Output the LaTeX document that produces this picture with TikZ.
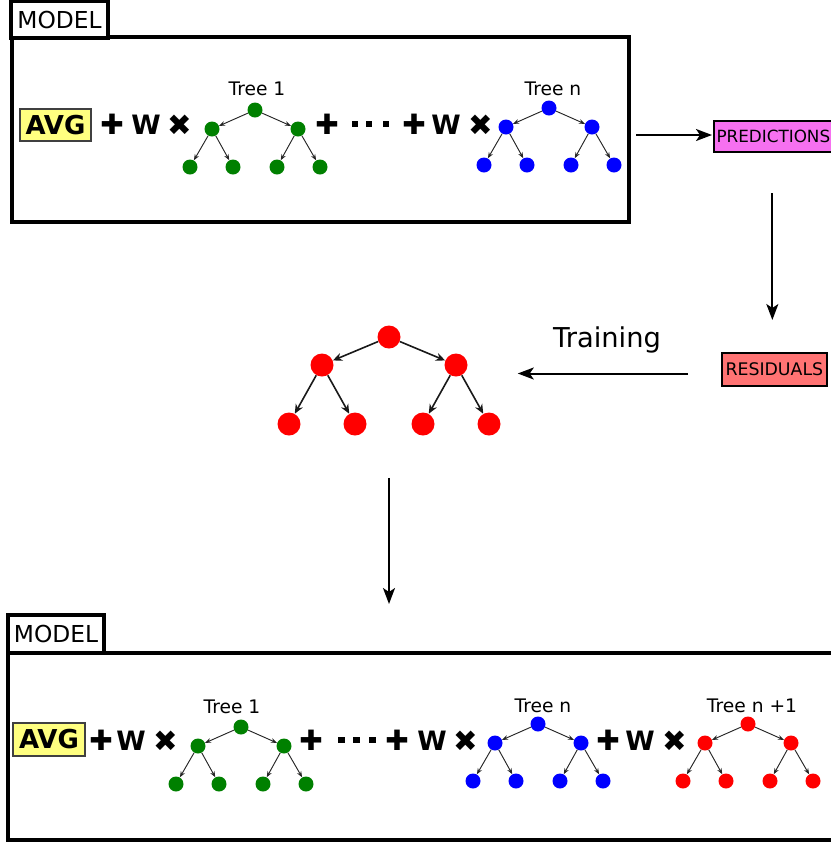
\documentclass[tikz,border=0pt]{standalone}
\usepackage{fontspec}
\setmainfont{DejaVu Sans}
\newfontfamily\dingfont{DejaVu Sans}
\usetikzlibrary{arrows.meta,calc}
\def\u{0.75pt}
\definecolor{avgyellow}{RGB}{255,255,128}
\definecolor{predpink}{RGB}{246,112,240}
\definecolor{respink}{RGB}{255,115,115}
\definecolor{tgreen}{RGB}{0,128,0}
\definecolor{tblue}{RGB}{0,0,255}
\definecolor{tred}{RGB}{255,0,0}
\tikzset{
 tnode/.style={circle, fill=#1, draw=none, inner sep=0pt, minimum size=15*\u},
 bnode/.style={circle, fill=tred, draw=none, inner sep=0pt, minimum size=23*\u},
 tarrow/.style={draw=black!85, line width=0.7pt, -{Stealth[length=4.5pt,width=3.5pt]}},
 barrow/.style={draw=black!90, line width=1.2pt, -{Stealth[length=7pt,width=6pt]}},
 flow/.style={line width=1.5pt, -{Stealth[length=12pt,width=9pt,inset=3pt]}},
 panel/.style={draw, line width=3pt, rectangle, inner sep=0pt},
 tab/.style={draw, line width=3pt, fill=white, inner sep=0pt, font=\fontsize{17.5}{20}\selectfont},
 avg/.style={draw=black!75, fill=avgyellow, line width=1.2pt, inner sep=0pt, minimum width=71*\u, minimum height=32*\u, font=\fontsize{19.5}{22}\selectfont\bfseries},
 op/.style={inner sep=0pt, font=\fontsize{20}{24}\selectfont\bfseries},
 plussym/.style={inner sep=0pt, font=\fontsize{21}{24}\selectfont\dingfont},
 timessym/.style={inner sep=0pt, font=\fontsize{22}{24}\selectfont\dingfont},
 dotsq/.style={rectangle, fill=black, inner sep=0pt, minimum size=6.5*\u},
 treelabel/.style={inner sep=0pt, font=\fontsize{14}{16}\selectfont},
 tagbox/.style={draw, line width=1.5pt, inner ysep=0pt, minimum height=31*\u, anchor=west, font=\fontsize{12.6}{15}\selectfont},
}
% #1 prefix, #2 x, #3 y, #4 colour, #5 label x, #6 label y, #7 label
\newcommand\smalltree[7]{%
 \node[tnode=#4] (#1r) at (#2,#3) {};
 \node[tnode=#4] (#1a) at ({#2-43},{#3+19}) {};
 \node[tnode=#4] (#1b) at ({#2+43},{#3+19}) {};
 \node[tnode=#4] (#1aa) at ({#2-65},{#3+57}) {};
 \node[tnode=#4] (#1ab) at ({#2-22},{#3+57}) {};
 \node[tnode=#4] (#1ba) at ({#2+22},{#3+57}) {};
 \node[tnode=#4] (#1bb) at ({#2+65},{#3+57}) {};
 \draw[tarrow] (#1r) -- (#1a);
 \draw[tarrow] (#1r) -- (#1b);
 \draw[tarrow] (#1a) -- (#1aa);
 \draw[tarrow] (#1a) -- (#1ab);
 \draw[tarrow] (#1b) -- (#1ba);
 \draw[tarrow] (#1b) -- (#1bb);
 \node[treelabel] (#1lab) at (#5,#6) {#7};
}
\begin{document}
\begin{tikzpicture}[x=0.75pt,y=-0.75pt]
\useasboundingbox (0,0) rectangle (831,844);
\clip (0,0) rectangle (831,844);
\fill[white] (0,0) rectangle (831,844);

% ---------- top model ----------
\node[panel, minimum width=617*\u, minimum height=185*\u] (model1) at (320.5,129.5) {};
\node[tab, minimum width=97*\u, minimum height=37*\u] (tab1) at (59.5,19.5) {MODEL};
\node[avg] (avg1) at (55.5,125) {AVG};
\node[plussym] (p1) at (112,124) {✚};
\node[op] (w1) at (146,125) {W};
\node[timessym] (x1) at (180,125) {✖};
\smalltree{ta}{255}{110}{tgreen}{257}{89}{Tree 1}
\node[plussym] (p2) at (327,124) {✚};
\node[dotsq] (d1) at (355,124) {};
\node[dotsq] (d2) at (369,124) {};
\node[dotsq] (d3) at (386,124) {};
\node[plussym] (p3) at (414,124) {✚};
\node[op] (w2) at (446,125) {W};
\node[timessym] (x2) at (481,125) {✖};
\smalltree{tb}{549}{108}{tblue}{553}{89}{Tree n}

% ---------- tags ----------
\node[tagbox, fill=predpink, inner xsep=2.5*\u] (pred) at (713,136.5) {PREDICTIONS};
\node[tagbox, fill=respink, inner xsep=3.5*\u, minimum height=33*\u, font=\fontsize{13}{15}\selectfont] (res) at (721,369.5) {RESIDUALS};

% ---------- big red tree ----------
\node[bnode] (br) at (389,337) {};
\node[bnode] (bl) at (322,365) {};
\node[bnode] (bri) at (456,365) {};
\node[bnode] (bll) at (289,424) {};
\node[bnode] (blr) at (355,424) {};
\node[bnode] (brl) at (423,424) {};
\node[bnode] (brr) at (489,424) {};
\draw[barrow] (br) -- (bl);
\draw[barrow] (br) -- (bri);
\draw[barrow] (bl) -- (bll);
\draw[barrow] (bl) -- (blr);
\draw[barrow] (bri) -- (brl);
\draw[barrow] (bri) -- (brr);
\node[anchor=base, inner sep=0pt, font=\fontsize{20.5}{24}\selectfont] (train) at (607,347) {Training};

% ---------- bottom model ----------
\node[panel, minimum width=852*\u, minimum height=187*\u] (model2) at (434,746.5) {};
\node[tab, minimum width=96*\u, minimum height=38*\u] (tab2) at (56,634) {MODEL};
\node[avg, minimum width=72*\u, minimum height=33*\u] (avg2) at (49,739.5) {AVG};
\node[plussym] (q1) at (101,740) {✚};
\node[op] (v1) at (131,741) {W};
\node[timessym] (y1) at (166,741) {✖};
\smalltree{tc}{241}{727}{tgreen}{232}{707}{Tree 1}
\node[plussym] (q2) at (311,740) {✚};
\node[dotsq] (e1) at (341.5,740) {};
\node[dotsq] (e2) at (356.5,740) {};
\node[dotsq] (e3) at (372.5,740) {};
\node[plussym] (q3) at (397,740) {✚};
\node[op] (v2) at (432,741) {W};
\node[timessym] (y2) at (466,741) {✖};
\smalltree{td}{538}{724}{tblue}{543}{706}{Tree n}
\node[plussym] (q4) at (608,740) {✚};
\node[op] (v3) at (640,741) {W};
\node[timessym] (y3) at (675,741) {✖};
\smalltree{te}{748}{724}{tred}{752}{706}{Tree n +1}

% ---------- flow arrows ----------
\draw[flow] ($(model1.east |- pred.west)+(5,-1.5)$) -- ($(pred.west)+(-1,-1.5)$);
\draw[flow] ($(pred.south)+(-1,40)$) -- ($(pred.south |- res.north)+(-1,-32)$);
\draw[flow] ($(res.west)+(-33,4)$) -- ($(bri.east |- res.west)+(50,4)$);
\draw[flow] ($(br |- bll.south)+(0,42)$) -- ($(br |- tab2.north)+(0,-9)$);
\end{tikzpicture}
\end{document}
